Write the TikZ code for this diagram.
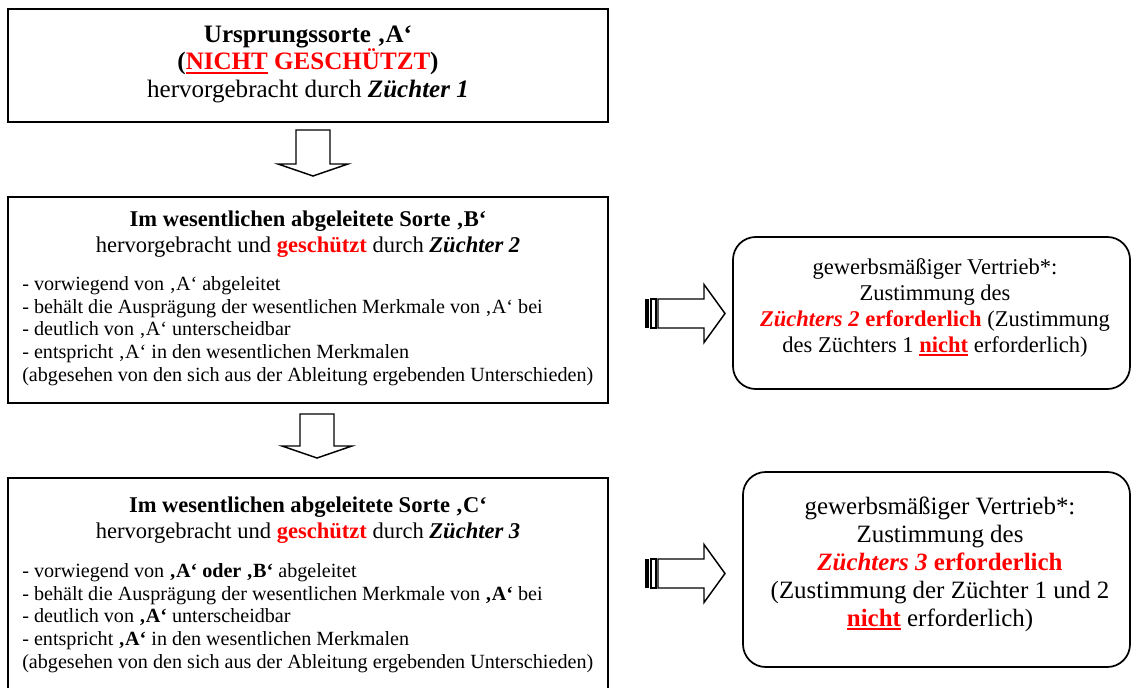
\documentclass[tikz,border=0pt]{standalone}
\usepackage{fontspec}
\setmainfont{Liberation Serif}

% red underline for the "nicht" words
\newcommand{\redline}[1]{\setbox0\hbox{#1}\rlap{\rule[-0.16em]{\wd0}{0.09em}}\box0\relax}
\newcommand{\red}[1]{\textcolor{red}{#1}}

\begin{document}
\begin{tikzpicture}[x=0.75pt,y=-0.75pt,
    box/.style={draw,line width=1.5pt,inner sep=0pt},
    roundbox/.style={draw,line width=1.3pt,inner sep=0pt,rounded corners=17pt},
    txt/.style={inner sep=0pt,anchor=base},
    list/.style={inner sep=0pt,anchor=base west,align=left,font=\fontsize{15.1}{16.9}\selectfont},
    head/.style={txt,align=center,font=\fontsize{16.9}{18.8}\selectfont},
    blockarrow/.style={draw,line width=1.1pt,line join=miter}]
    \useasboundingbox (0,0) rectangle (1131,688);

    % left column
    \node[box,minimum width=450pt,minimum height=84.5pt] (orig) at (308,65.7) {};
    \node[box,minimum width=450pt,minimum height=154.5pt] (sorteB) at (308,300) {};
    \node[box,minimum width=450pt,minimum height=166.5pt] (sorteC) at (308,589) {};

    % multi-line nodes sit on the baseline of their last line
    \node[txt,align=center,font=\fontsize{18.8}{20.7}\selectfont] (origtext) at (308,97.5)
        {\textbf{Ursprungssorte ‚A‘}\\
         \textbf{(\red{\redline{NICHT} GESCHÜTZT})}\\
         hervorgebracht durch \textbf{\textit{Züchter 1}}};

    \node[head] (headB) at (308,252)
        {\textbf{Im wesentlichen abgeleitete Sorte ‚B‘}\\
         hervorgebracht und \textbf{\red{geschützt}} durch \textbf{\textit{Züchter 2}}};
    \node[list] (listB) at (22,381)
        {- vorwiegend von ‚A‘ abgeleitet\\
         - behält die Ausprägung der wesentlichen Merkmale von ‚A‘ bei\\
         - deutlich von ‚A‘ unterscheidbar\\
         - entspricht ‚A‘ in den wesentlichen Merkmalen\\
         (abgesehen von den sich aus der Ableitung ergebenden Unterschieden)};

    \node[head] (headC) at (308,538)
        {\textbf{Im wesentlichen abgeleitete Sorte ‚C‘}\\
         hervorgebracht und \textbf{\red{geschützt}} durch \textbf{\textit{Züchter 3}}};
    \node[list] (listC) at (22,668)
        {- vorwiegend von \textbf{‚A‘ oder ‚B‘} abgeleitet\\
         - behält die Ausprägung der wesentlichen Merkmale von \textbf{‚A‘} bei\\
         - deutlich von \textbf{‚A‘} unterscheidbar\\
         - entspricht \textbf{‚A‘} in den wesentlichen Merkmalen\\
         (abgesehen von den sich aus der Ableitung ergebenden Unterschieden)};

    % right column
    \node[roundbox,minimum width=297.75pt,minimum height=114pt] (vertriebB) at (931.5,313) {};
    \node[roundbox,minimum width=290.25pt,minimum height=146.25pt] (vertriebC) at (936.5,569.5) {};

    \node[txt,align=center,font=\fontsize{16.9}{19.3}\selectfont] (zustB) at (935,352)
        {gewerbsmäßiger Vertrieb*:\\
         Zustimmung des\\
         \red{\textbf{\textit{Züchters 2} erforderlich}} (Zustimmung\\
         des Züchters 1 \red{\redline{\textbf{nicht}}} erforderlich)};
    \node[txt,align=center,font=\fontsize{18.7}{21}\selectfont] (zustC) at (940,626)
        {gewerbsmäßiger Vertrieb*:\\
         Zustimmung des\\
         \red{\textbf{\textit{Züchters 3} erforderlich}}\\
         (Zustimmung der Züchter 1 und 2\\
         \red{\redline{\textbf{nicht}}} erforderlich)};

    % down arrows
    \foreach \xm/\yt/\len in {313/130/34, 317/414/32}
        \draw[blockarrow] (\xm-17,\yt) -- (\xm+17,\yt) -- (\xm+17,\yt+\len) -- (\xm+35,\yt+\len)
            -- (\xm,\yt+\len+12) -- (\xm-35,\yt+\len) -- (\xm-17,\yt+\len) -- cycle;

    % striped right arrows
    \foreach \ym in {313.5,573.5} {
        \fill (645,\ym-14.5) rectangle (649,\ym+14.5);
        \draw[line width=1pt] (651,\ym-14.5) rectangle (656,\ym+14.5);
        \draw[blockarrow] (658,\ym-14.5) -- (704,\ym-14.5) -- (704,\ym-29) -- (725,\ym)
            -- (704,\ym+29) -- (704,\ym+14.5) -- (658,\ym+14.5) -- cycle;
    }
\end{tikzpicture}
\end{document}
